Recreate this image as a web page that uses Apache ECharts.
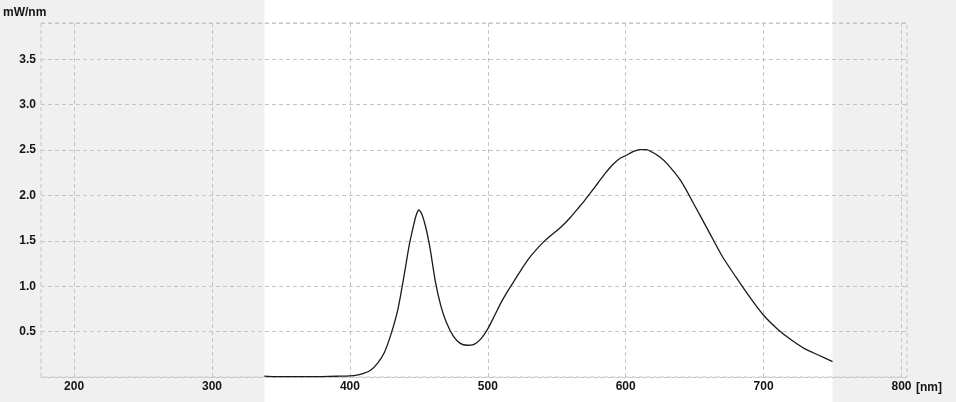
<!DOCTYPE html>
<html>
<head>
<meta charset="utf-8">
<script src="https://cdn.jsdelivr.net/npm/echarts@6/dist/echarts.min.js"></script>
<style>
html,body{margin:0;padding:0;background:#f0f0f0;}
#c{width:956px;height:402px;}
</style>
</head>
<body>
<div id="c"></div>
<script>
// Wavelength samples (nm)
var wavelengths = [338, 345, 350, 360, 370, 380, 390, 400, 405, 410, 415, 420, 425, 430, 435, 440, 443, 446, 448, 450, 452, 455, 458, 462, 466, 470, 475, 480, 485, 490, 495, 500, 505, 510, 515, 520, 525, 530, 535, 540, 545, 550, 555, 560, 565, 570, 575, 580, 585, 590, 595, 600, 605, 610, 615, 620, 625, 630, 640, 650, 660, 670, 680, 690, 700, 710, 720, 730, 740, 750];
// Spectral power (mW/nm)
var power = [0.01, 0.005, 0.005, 0.004, 0.004, 0.005, 0.008, 0.012, 0.02, 0.04, 0.075, 0.15, 0.27, 0.48, 0.76, 1.18, 1.45, 1.66, 1.78, 1.84, 1.80, 1.65, 1.43, 1.05, 0.78, 0.60, 0.45, 0.37, 0.35, 0.36, 0.42, 0.53, 0.68, 0.83, 0.96, 1.08, 1.20, 1.31, 1.40, 1.48, 1.55, 1.61, 1.68, 1.76, 1.85, 1.94, 2.04, 2.14, 2.24, 2.33, 2.40, 2.44, 2.48, 2.505, 2.505, 2.47, 2.42, 2.35, 2.16, 1.89, 1.61, 1.33, 1.10, 0.88, 0.68, 0.53, 0.41, 0.31, 0.24, 0.17];
// Axis settings
var xTicks = [200, 300, 400, 500, 600, 700, 800];
var xMin = 176, xMax = 804;
var yMin = 0, yMax = 3.9, yStep = 0.5;
var yUnit = 'mW/nm';
var xUnit = '[nm]';

var seriesData = wavelengths.map(function (w, i) { return [w, power[i]]; });

var chart = echarts.init(document.getElementById('c'), null, {renderer: 'canvas'});
var gridColor = '#c4c4c4';
var labelFont = {color: '#141414', fontSize: 12, fontWeight: 'bold', fontFamily: 'Liberation Sans, Arial, sans-serif'};

chart.setOption({
  backgroundColor: '#f0f0f0',
  animation: false,
  grid: {
    left: 41, right: 49, top: 23, bottom: 25,
    show: true,
    backgroundColor: 'transparent',
    borderColor: gridColor,
    borderWidth: 1,
    borderType: [4, 3],
    containLabel: false,
    outerBoundsMode: 'none'
  },
  xAxis: {
    type: 'value',
    min: xMin, max: xMax,
    axisLine: {show: false},
    axisTick: {show: false, customValues: xTicks},
    axisLabel: Object.assign({customValues: xTicks, margin: 4}, labelFont),
    splitLine: {show: true, lineStyle: {color: gridColor, type: [4, 3], width: 1}}
  },
  yAxis: {
    type: 'value',
    min: yMin, max: yMax, interval: yStep,
    axisLine: {show: false},
    axisTick: {show: false},
    axisLabel: Object.assign({
      margin: 5,
      formatter: function (v) {
        if (v === 0 || Math.abs(v / yStep - Math.round(v / yStep)) > 1e-6) return '';
        return v.toFixed(1);
      }
    }, labelFont),
    splitLine: {show: true, lineStyle: {color: gridColor, type: [4, 3], width: 1}}
  },
  series: [{
    type: 'line',
    data: seriesData,
    showSymbol: false,
    smooth: 0.25,
    lineStyle: {color: '#1a1a1a', width: 1.3},
    z: 5
  }]
});

var x1 = chart.convertToPixel({xAxisIndex: 0}, wavelengths[0]);
var x2 = chart.convertToPixel({xAxisIndex: 0}, wavelengths[wavelengths.length - 1]);
chart.setOption({
  graphic: [
    {type: 'rect', z: -10, silent: true, shape: {x: x1, y: 0, width: x2 - x1, height: 402}, style: {fill: '#ffffff'}},
    {type: 'text', z: 10, x: 3, y: 13, style: {text: yUnit, fill: '#141414', font: 'bold 12px "Liberation Sans", Arial, sans-serif', verticalAlign: 'middle', align: 'left'}},
    {type: 'text', z: 10, x: 916, y: 388, style: {text: xUnit, fill: '#141414', font: 'bold 12px "Liberation Sans", Arial, sans-serif', verticalAlign: 'middle', align: 'left'}}
  ]
});
</script>
</body>
</html>
